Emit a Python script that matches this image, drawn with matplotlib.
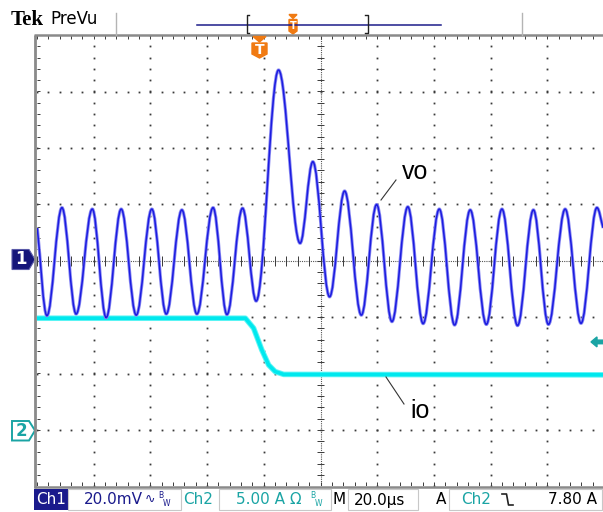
import numpy as np
import matplotlib.pyplot as plt
from matplotlib.path import Path
from matplotlib.patches import PathPatch, Polygon, Rectangle
from matplotlib.collections import LineCollection

# scope settings (from the readout)
ch1_scale = 20.0     # mV/div
ch2_scale = 5.0      # A/div
ch2_offset = -3.0    # div
time_scale = 20.0    # us/div
trig_pos = 3.93      # div from left edge of screen
trig_level = 7.80    # A

# vo: extrema of the trace, time (us, from trigger) and voltage (mV)
vo_t = [-78.5, -75.1, -69.8, -64.8, -59.1, -54.2, -48.9, -43.6, -38.1, -33.0,
        -27.5, -22.2, -16.5, -11.6, -6.1, -1.3, 6.6, 14.2, 18.7, 24.6,
        29.9, 35.8, 41.2, 46.6, 52.2, 57.6, 63.3, 68.7, 74.2, 79.9,
        85.4, 90.9, 96.5, 101.8, 107.7, 113.3, 118.9, 121.1]
vo_mv = [11.6, -19.5, 18.8, -18.9, 18.3, -20.2, 18.3, -19.3, 18.3, -18.9,
         18.0, -18.9, 18.8, -19.1, 18.6, -14.3, 67.6, 6.2, 35.1, -12.8,
         24.7, -19.3, 19.9, -21.6, 19.1, -22.3, 18.3, -22.8, 18.0, -22.6,
         18.3, -23.0, 18.0, -22.6, 18.3, -22.2, 18.8, 11.6]

# io: load current, time (us) and current (A)
io_t = [-78.5, -5.1, -2.2, 0.7, 3.1, 5.4, 8.4, 121.1]
io_a = [9.90, 9.90, 9.02, 7.09, 5.76, 5.17, 4.92, 4.88]


def smooth_path(xs, ys, k=0.3634):
    # cubic pieces with flat tangents at each peak / trough
    verts = [(xs[0], ys[0])]
    codes = [Path.MOVETO]
    n = len(xs)
    for i in range(n - 1):
        x0, y0, x1, y1 = xs[i], ys[i], xs[i + 1], ys[i + 1]
        dx = x1 - x0
        c1 = (x0 + dx / 3, y0 + (y1 - y0) / 3) if i == 0 else (x0 + k * dx, y0)
        c2 = (x1 - dx / 3, y1 - (y1 - y0) / 3) if i == n - 2 else (x1 - k * dx, y1)
        verts += [c1, c2, (x1, y1)]
        codes += [Path.CURVE4] * 3
    return Path(verts, codes)


fig = plt.figure(figsize=(6.03, 5.12), dpi=100)
fig.patch.set_facecolor('white')
ax = fig.add_axes([37 / 603, 25.7 / 512, 567 / 603, 451.2 / 512])
ax.set_xlim(0, 10)
ax.set_ylim(-4, 4)
ax.axis('off')

# graticule
dot = dict(ls='none', marker='s', ms=1.3, mew=0, color='#3a3a3a', zorder=1)
fine = np.arange(0, 10.01, 0.2)
fine_v = np.arange(-4, 4.01, 0.2)
for gx in range(1, 10):
    if gx != 5:
        ax.plot(np.full_like(fine_v, gx), fine_v, **dot)
for gy in range(-3, 4):
    if gy != 0:
        ax.plot(fine, np.full_like(fine, gy), **dot)
ax.plot([5, 5], [-4, 4], color='#555555', lw=0.8, ls=(0, (1, 1)), zorder=1)
ax.plot([0, 10], [0, 0], color='#555555', lw=0.8, ls=(0, (1, 1)), zorder=1)
segs = []
for yy in fine_v:
    segs.append([(4.93, yy), (5.07, yy)])
for xx in fine:
    segs.append([(xx, -0.09), (xx, 0.09)])
    segs.append([(xx, 4), (xx, 3.93)])
    segs.append([(xx, -4), (xx, -3.93)])
for yy in fine_v:
    segs.append([(0, yy), (0.06, yy)])
ax.add_collection(LineCollection(segs, colors='#3a3a3a', linewidths=0.7, zorder=1))

# traces
io_x = [t / time_scale + trig_pos for t in io_t]
io_y = [a / ch2_scale + ch2_offset for a in io_a]
ax.plot(io_x, io_y, color='#5ef5f5', lw=4.0, solid_joinstyle='round', zorder=3)
ax.plot(io_x, io_y, color='#00e8ee', lw=2.6, solid_joinstyle='round', zorder=3)

vo_x = [t / time_scale + trig_pos for t in vo_t]
vo_y = [v / ch1_scale for v in vo_mv]
path = smooth_path(vo_x, vo_y)
ax.add_patch(PathPatch(path, fill=False, edgecolor='#8a8af2', lw=2.3, zorder=4))
ax.add_patch(PathPatch(path, fill=False, edgecolor='#1c1ce0', lw=1.1, zorder=5))

# overlay in pixel coordinates
ov = fig.add_axes([0, 0, 1, 1], facecolor='none')
ov.set_xlim(0, 603)
ov.set_ylim(512, 0)
ov.axis('off')

# frame
ov.plot([34.6, 34.6], [34.5, 488], color='#8a8a8a', lw=2.0, solid_capstyle='butt')
ov.plot([33.6, 603], [35.4, 35.4], color='#8a8a8a', lw=1.8, solid_capstyle='butt')
ov.plot([33.6, 603], [487.2, 487.2], color='#8a8a8a', lw=1.8, solid_capstyle='butt')

# top bar
ov.text(11, 20, 'Tek', fontsize=15, fontweight='bold', family='Liberation Serif',
        va='center', ha='left')
ov.text(50, 19, 'PreVu', fontsize=12, family='DejaVu Sans', va='center', ha='left')
ov.plot([116, 116], [13, 35], color='#b4b4b4', lw=1)
ov.plot([522, 522], [13, 35], color='#b4b4b4', lw=1)
ov.plot([197, 441], [25, 25], color='#1c1c8a', lw=1.1)
ov.plot([249, 246.5, 246.5, 249], [15, 15, 33, 33], color='#222222', lw=1)
ov.plot([365, 367.5, 367.5, 365], [15, 15, 33, 33], color='#222222', lw=1)
orange = '#f07a12'
ov.add_patch(Polygon([(289, 14.5), (297, 14.5), (293, 18.5)], color=orange))
ov.add_patch(Polygon([(289, 19.5), (297, 19.5), (297, 31), (293, 34), (289, 31)], color=orange))
ov.text(293, 26, 'T', color='white', fontsize=7, fontweight='bold', ha='center', va='center')

# trigger position marker
ov.add_patch(Polygon([(253, 36.5), (266, 36.5), (259.5, 42)], color=orange, zorder=6))
ov.add_patch(Polygon([(252, 43), (267, 43), (267, 54), (259.5, 58), (252, 54)],
                     color=orange, zorder=6))
ov.text(259.5, 49.5, 'T', color='white', fontsize=10, fontweight='bold',
        ha='center', va='center', zorder=7)

# channel markers
ov.add_patch(Polygon([(12, 249.5), (29, 249.5), (35, 259.5), (29, 269.5), (12, 269.5)],
                     facecolor='#15157a', edgecolor='#5a5aa8', lw=0.8))
ov.text(21, 259.5, '1', color='white', fontsize=12, fontweight='bold', ha='center', va='center')
teal = '#1aa4a4'
ov.add_patch(Polygon([(12, 421), (29, 421), (35, 430.5), (29, 440.5), (12, 440.5)],
                     facecolor='white', edgecolor=teal, lw=1.4))
ov.text(21, 431, '2', color=teal, fontsize=12, fontweight='bold', ha='center', va='center')

# trigger level arrow
ty = 260.7 - (trig_level / ch2_scale + ch2_offset) * 56.4
ov.add_patch(Polygon([(591, ty), (597, ty - 5), (597, ty - 1.8), (603, ty - 1.8),
                      (603, ty + 1.8), (597, ty + 1.8), (597, ty + 5)], color=teal))

# labels
ov.text(415, 172, 'vo', fontsize=18, family='Liberation Sans', ha='center', va='center')
ov.plot([396, 381], [180, 200], color='#333333', lw=0.8)
ov.text(420, 411, 'io', fontsize=18, family='Liberation Sans', ha='center', va='center')
ov.plot([386, 404], [377, 404], color='#333333', lw=0.8)

# readout bar
navy = '#1a1a8c'
fs = 11
ov.add_patch(Rectangle((34, 489), 34, 21, facecolor='#1a1a8c', edgecolor='none'))
ov.text(51, 500, 'Ch1', color='white', fontsize=fs, ha='center', va='center')
for x0, x1 in [(68, 181), (219, 331), (348, 418), (449, 602)]:
    ov.add_patch(Rectangle((x0, 489), x1 - x0, 21, facecolor='none',
                           edgecolor='#c8c8c8', lw=0.8))
ov.text(84, 500, '20.0mV', color=navy, fontsize=fs, ha='left', va='center')
ov.text(145, 499, '\u223f', color=navy, fontsize=9, ha='left', va='center')
ov.text(158, 496, 'B', color=navy, fontsize=5.5, ha='left', va='center')
ov.text(163, 503, 'W', color=navy, fontsize=5.5, ha='left', va='center')
ov.text(183, 500, 'Ch2', color=teal, fontsize=fs, ha='left', va='center')
ov.text(236, 500, '5.00 A \u03a9', color=teal, fontsize=fs, ha='left', va='center')
ov.text(310, 496, 'B', color=teal, fontsize=5.5, ha='left', va='center')
ov.text(315, 503, 'W', color=teal, fontsize=5.5, ha='left', va='center')
ov.text(332, 500, 'M', color='black', fontsize=fs, ha='left', va='center')
ov.text(354, 500, '20.0\u00b5s', color='black', fontsize=fs, ha='left', va='center')
ov.text(436, 500, 'A', color='black', fontsize=fs, ha='left', va='center')
ov.text(461, 500, 'Ch2', color=teal, fontsize=fs, ha='left', va='center')
ov.plot([502, 506.5, 508.5, 513], [494, 494, 505, 505], color='#222222', lw=1.2)
ov.text(548, 500, '%.2f A' % trig_level, color='black', fontsize=fs, ha='left', va='center')

fig.savefig('out.png', dpi=100)
